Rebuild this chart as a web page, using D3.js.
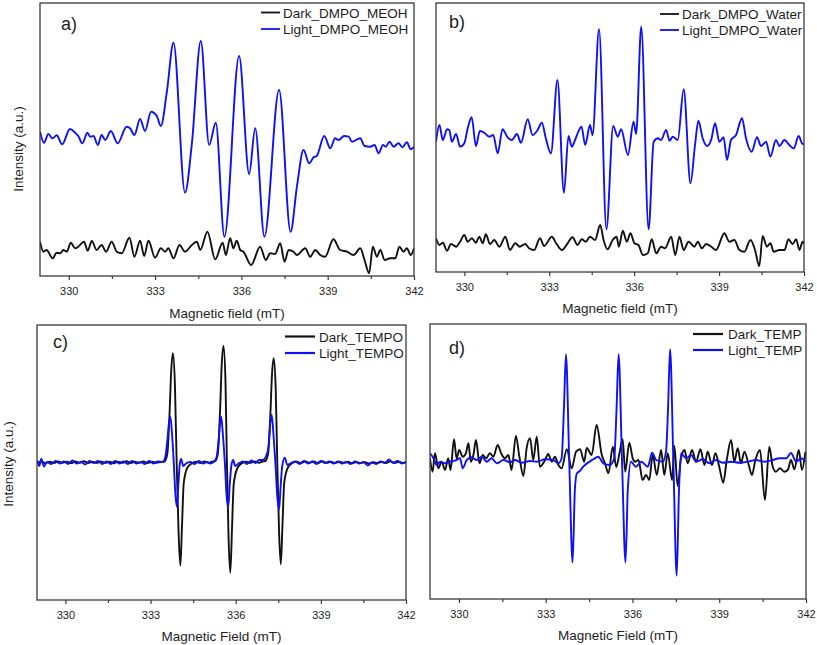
<!DOCTYPE html>
<html><head><meta charset="utf-8">
<script src="https://cdn.jsdelivr.net/npm/d3@7"></script>
<style>
body{margin:0;background:#fff}
svg{display:block}
text{font-family:"Liberation Sans",Arial,sans-serif;fill:#1e1e1e}
</style>
</head><body>
<svg id="chart" width="817" height="645"></svg>
<script>
// ---------- data ----------
const fieldDomain = [329, 342];
const fieldTicks = [330, 333, 336, 339, 342];
const minorTicks = [331.5, 334.5, 337.5, 340.5];
const panelLabels = ["a)", "b)", "c)", "d)"];
const xTitles = ["Magnetic field (mT)", "Magnetic field (mT)", "Magnetic Field (mT)", "Magnetic Field (mT)"];
const yTitle = "Intensity (a.u.)";
const legendMeoh = ["Dark_DMPO_MEOH", "Light_DMPO_MEOH"];
const legendWater = ["Dark_DMPO_Water", "Light_DMPO_Water"];
const legendTempo = ["Dark_TEMPO", "Light_TEMPO"];
const legendTemp = ["Dark_TEMP", "Light_TEMP"];

// [field (mT), intensity (a.u.)]
const darkMeoh = [[329.0,34.3],[329.12,24.3],[329.23,26],[329.44,17.7],[329.58,23.3],[329.70,22.7],[329.81,26],[329.93,24.3],[330.07,33.3],[330.22,27.7],[330.33,29.3],[330.53,34.3],[330.66,25.3],[330.80,35],[330.97,26],[331.14,31],[331.30,24.3],[331.49,34.3],[331.67,24.3],[331.84,22.7],[332.11,38.3],[332.28,19.3],[332.48,35.3],[332.62,20],[332.77,35.3],[333.00,18.3],[333.20,27.7],[333.35,24.3],[333.46,27.7],[333.64,17.7],[333.85,31],[334.04,24.3],[334.28,31],[334.45,34.3],[334.57,26],[334.82,44.3],[335.09,16.7],[335.35,33.3],[335.46,21],[335.61,37.7],[335.72,27.7],[335.84,35.3],[335.96,26],[336.07,24.3],[336.34,11],[336.65,29.3],[336.85,16],[337.0,22.7],[337.17,22],[337.35,32.7],[337.50,14.3],[337.64,26],[337.81,24.3],[337.93,21],[338.22,27.7],[338.39,19.3],[338.57,26],[338.74,21],[338.91,19.3],[339.20,36.7],[339.43,26],[339.67,24.3],[339.90,21],[340.13,27.7],[340.28,16],[340.44,2.7],[340.57,29.3],[340.71,19.3],[340.83,26],[340.98,16],[341.17,17.7],[341.35,17.7],[341.49,29.3],[341.64,24.3],[341.75,27.7],[341.89,21],[342.0,27.7]];
const lightMeoh = [[329.0,144.3],[329.14,133.3],[329.29,142],[329.43,137.7],[329.58,140.7],[329.77,131.7],[330.04,147],[330.22,143.3],[330.33,140],[330.47,132.7],[330.65,143.3],[330.74,139.3],[330.86,140],[331.01,131],[331.14,141],[331.27,136],[331.46,145],[331.70,132.7],[332.01,149.3],[332.13,147.7],[332.28,141],[332.48,157],[332.65,145],[332.86,164.3],[333.06,160],[333.20,150],[333.41,184.3],[333.64,233.3],[334.04,83.3],[334.28,132.7],[334.59,235],[334.88,131],[335.11,153.3],[335.41,39.3],[335.92,220],[336.27,102],[336.48,147.7],[336.80,39.3],[337.31,186],[337.71,44.3],[337.93,89.3],[338.16,126],[338.36,112.7],[338.51,118.7],[338.62,120],[338.88,140],[339.09,127.7],[339.26,137.7],[339.38,136],[339.57,140],[339.73,139.3],[339.84,134.3],[340.13,137.7],[340.28,130],[340.48,129.3],[340.63,131],[340.77,122.7],[340.92,131],[341.02,129.3],[341.15,134.3],[341.29,129.3],[341.46,132.7],[341.60,128.7],[341.75,133.7],[341.89,126.7],[342.0,129.3]];

const darkWater = [[329.0,33.7],[329.12,27],[329.24,29.3],[329.39,21.3],[329.53,28],[329.71,25.3],[329.85,30.3],[330.0,37],[330.12,30.3],[330.27,33.7],[330.41,29.3],[330.53,35.3],[330.65,28.7],[330.76,37.7],[330.91,28],[331.06,32],[331.24,25.3],[331.45,35.3],[331.61,22],[331.80,28.7],[331.96,25.3],[332.15,28],[332.29,23.7],[332.47,22],[332.67,33.7],[332.82,26],[333.09,35.3],[333.26,28],[333.45,22],[333.65,28.7],[333.82,34.7],[334.0,27],[334.15,32.7],[334.29,30.3],[334.44,35.3],[334.62,32],[334.80,47],[334.92,32],[335.06,22.7],[335.24,32],[335.38,35.3],[335.46,25.3],[335.60,41.3],[335.74,30.3],[335.87,38.7],[336.01,28.7],[336.15,27],[336.31,17],[336.48,18.7],[336.62,32.7],[336.78,18.7],[336.95,25.3],[337.09,23.7],[337.31,35.3],[337.45,17],[337.60,35.3],[337.75,22],[337.92,30.3],[338.13,25.3],[338.25,30.3],[338.39,23.7],[338.54,28],[338.69,26],[338.89,22],[339.19,38.7],[339.36,30.3],[339.54,32],[339.72,22],[339.89,20.3],[340.11,32],[340.27,22],[340.42,6],[340.54,36],[340.69,25.3],[340.81,28.7],[340.93,20.3],[341.13,22],[341.31,22],[341.45,32.7],[341.60,28],[341.72,32.7],[341.84,22],[341.95,30.3],[342.0,28]];
const lightWater = [[329.0,130.3],[329.12,147],[329.24,132],[329.39,142.7],[329.47,142],[329.56,130.3],[329.71,138],[329.85,125.3],[330.0,128.7],[330.12,143.7],[330.26,154.7],[330.41,126],[330.55,141],[330.71,139.3],[330.88,135.3],[331.02,137],[331.18,118.7],[331.35,142.7],[331.53,134.7],[331.68,132],[331.86,138],[332.0,129.3],[332.24,152.7],[332.41,137],[332.59,142],[332.74,149.3],[332.88,133.7],[333.06,118.7],[333.29,192],[333.52,79.3],[333.68,136],[333.80,125.3],[333.92,132.7],[334.14,145.3],[334.27,127],[334.44,147],[334.53,137],[334.76,242.7],[335.02,42.7],[335.26,146],[335.42,135.3],[335.54,142.7],[335.78,117],[335.98,150.3],[336.07,138],[336.25,245.3],[336.51,42.7],[336.69,130.3],[336.84,133.7],[336.95,132],[337.13,142],[337.25,131.3],[337.36,135.3],[337.54,132],[337.75,182.7],[337.99,88.7],[338.15,127],[338.27,151.3],[338.42,133.7],[338.58,126],[338.72,132],[338.86,148.7],[339.01,130.3],[339.16,134.7],[339.28,112],[339.42,132],[339.60,137],[339.81,153.7],[339.95,133.7],[340.15,120.3],[340.34,134.7],[340.48,126],[340.66,130.3],[340.81,115.3],[341.01,132],[341.13,126],[341.31,132],[341.48,127],[341.64,123.7],[341.81,136],[341.95,128],[342.0,128.7]];

const darkTempo = [[329.0,136.5],[329.15,138.5],[329.3,136.8],[329.45,138.2],[329.6,137],[329.75,138.6],[329.9,137.2],[330.05,138.4],[330.2,136.9],[330.35,138.5],[330.5,137.3],[330.65,138.8],[330.8,137],[330.95,138.2],[331.1,137.1],[331.25,138.6],[331.4,137.2],[331.55,138.3],[331.7,136.8],[331.85,138.4],[332.0,137.2],[332.15,138.7],[332.3,137],[332.45,138.2],[332.6,137.1],[332.75,138.5],[332.9,137],[333.05,138.3],[333.2,137.2],[333.35,138],[333.49,138.5],[333.59,146],[333.67,186.7],[333.73,230],[333.79,246.7],[333.86,214],[333.92,137.7],[333.99,65.3],[334.05,34.3],[334.11,75.7],[334.17,117],[334.30,132.5],[334.45,136.5],[334.6,138.2],[334.75,137],[334.9,138.5],[335.05,137.2],[335.17,138.4],[335.27,138.8],[335.37,146],[335.45,190],[335.51,236.6],[335.57,254],[335.64,219],[335.69,137.7],[335.75,60.4],[335.81,27.3],[335.87,71.5],[335.93,115.6],[336.06,132],[336.22,136.8],[336.37,138.3],[336.52,137.2],[336.67,138.6],[336.82,137.3],[336.94,138.5],[337.04,139],[337.14,146],[337.22,184.5],[337.28,226],[337.34,241.7],[337.41,210.5],[337.465,137.7],[337.53,66.3],[337.59,35.7],[337.65,76.5],[337.71,117.3],[337.84,132.5],[338.0,137],[338.15,138.4],[338.3,137.1],[338.45,138.6],[338.6,137.3],[338.75,138.5],[338.9,137],[339.05,138.8],[339.2,137.2],[339.35,138.3],[339.5,137],[339.65,138.4],[339.8,137.2],[339.95,138.2],[340.1,136.8],[340.25,138],[340.4,136.9],[340.55,137.8],[340.7,136.6],[340.85,137.7],[341.0,136.9],[341.15,138.1],[341.3,137],[341.45,138.6],[341.6,137.2],[341.75,138.3],[341.9,137],[342.0,137.8]];
const lightTempo = [[329.0,140],[329.08,134],[329.15,141],[329.25,133.5],[329.35,138],[329.5,136],[329.65,139],[329.8,136.5],[329.95,138.5],[330.1,136],[330.25,139.5],[330.4,136.5],[330.55,138],[330.7,135.5],[330.85,139],[331.0,137],[331.15,139],[331.3,136],[331.45,138.5],[331.6,136],[331.75,139],[331.9,136.5],[332.05,138.5],[332.2,136],[332.35,139],[332.5,136.5],[332.65,138],[332.8,136],[332.95,139],[333.1,136.5],[333.25,138.5],[333.42,138],[333.52,143],[333.60,162],[333.65,177],[333.70,183.3],[333.76,165],[333.82,136.5],[333.88,104],[333.93,93.3],[333.98,115],[334.03,136],[334.08,141],[334.15,134],[334.25,136.5],[334.4,138],[334.55,136],[334.7,139],[334.85,136.5],[335.0,138],[335.1,136.5],[335.22,138],[335.32,142],[335.40,160],[335.45,177],[335.49,183.3],[335.55,165],[335.62,136.5],[335.68,104],[335.74,93.3],[335.79,115],[335.85,135],[335.91,140],[335.98,134],[336.1,136.5],[336.25,138.5],[336.4,136],[336.55,139.5],[336.7,137],[336.82,140],[336.95,140],[337.05,142.5],[337.15,152],[337.22,177],[337.27,185],[337.33,166],[337.40,136.5],[337.47,102],[337.53,90.7],[337.58,112],[337.64,134],[337.73,142.3],[337.82,135],[337.95,137],[338.1,138.5],[338.25,136],[338.4,139],[338.55,136.5],[338.7,138.5],[338.85,136],[339.0,139],[339.15,137],[339.3,138.5],[339.45,136.5],[339.6,138.5],[339.75,136.5],[339.9,138],[340.05,136],[340.2,138.5],[340.35,136.5],[340.5,138],[340.65,134.5],[340.8,137.5],[340.95,136],[341.1,138.5],[341.25,137],[341.4,140.5],[341.55,137],[341.7,139],[341.85,136.5],[342.0,138]];

const darkTemp = [[329.0,140.7],[329.09,127.3],[329.17,145.7],[329.29,130.7],[329.40,137.3],[329.52,129],[329.63,140.7],[329.71,129],[329.83,159.7],[329.92,140.7],[330.01,149],[330.13,142.3],[330.24,145.7],[330.33,155.7],[330.41,137.3],[330.50,144],[330.59,159],[330.71,135.7],[330.82,144],[330.94,140.7],[331.07,145.7],[331.19,142.3],[331.34,154],[331.46,145.7],[331.59,140.7],[331.71,144],[331.82,129],[331.97,163],[332.09,142.3],[332.23,123],[332.34,150.7],[332.46,160.7],[332.57,139],[332.69,162.3],[332.80,132.3],[332.98,139],[333.09,145],[333.21,137.3],[333.32,142.3],[333.44,134],[333.55,130.7],[333.73,149.7],[333.90,130.7],[334.05,147.3],[334.19,149.7],[334.33,137.3],[334.42,151],[334.59,144],[334.76,174],[334.94,144],[335.05,135.7],[335.17,125.7],[335.32,152.3],[335.44,132],[335.55,145.7],[335.66,159.7],[335.75,127.3],[335.89,156.3],[336.01,140.7],[336.10,137.3],[336.21,139],[336.35,119],[336.47,124],[336.58,119],[336.70,144],[336.84,124],[336.99,149],[337.10,124],[337.22,145.7],[337.37,119],[337.45,153],[337.56,113],[337.68,140.7],[337.80,149],[337.91,135.7],[338.06,149],[338.20,137.3],[338.35,149.7],[338.49,134],[338.60,147.3],[338.75,134],[338.87,145.7],[339.00,132.3],[339.14,116.3],[339.26,139],[339.41,159],[339.52,137.3],[339.64,150.7],[339.75,135.7],[339.87,147.3],[340.02,134],[340.13,124],[340.25,139],[340.41,149],[340.58,99],[340.73,152.3],[340.85,132.3],[340.96,127.3],[341.10,130.7],[341.25,127.3],[341.37,129],[341.48,139],[341.60,129.7],[341.75,149],[341.86,129],[341.98,147.3]];
const lightTemp = [[329.0,145.7],[329.12,140.7],[329.23,134],[329.35,137.3],[329.52,135.7],[329.69,137.3],[329.86,138.3],[330.04,140.7],[330.13,130.7],[330.27,139],[330.44,141.7],[330.61,139],[330.79,142.3],[330.96,137.3],[331.13,140.7],[331.31,135.7],[331.54,139],[331.77,136.7],[331.94,139],[332.17,136.3],[332.46,138],[332.69,137.3],[332.98,139.7],[333.26,139],[333.44,135.7],[333.55,140.7],[333.63,190],[333.70,244.7],[333.815,137],[333.93,36.7],[334.01,110],[334.08,125.7],[334.18,128],[334.30,132.3],[334.65,139.7],[334.82,142.3],[334.99,135.7],[335.22,134],[335.37,140.7],[335.45,190],[335.52,244.7],[335.64,137],[335.76,36.7],[335.84,110],[335.95,137.3],[336.12,132.3],[336.30,137.3],[336.53,132.3],[336.68,146.3],[336.82,139],[337.05,137.3],[337.16,147.3],[337.23,190],[337.30,249.7],[337.415,137],[337.53,23.3],[337.61,110],[337.68,145.7],[337.85,140.7],[338.03,144],[338.20,137.3],[338.43,139.7],[338.66,135.7],[338.89,139],[339.12,136.3],[339.41,137.3],[339.70,136.3],[339.99,137.3],[340.27,139],[340.56,137.3],[340.85,139],[341.08,140.7],[341.31,140.7],[341.48,146],[341.66,137.3],[341.83,140.7],[341.98,137.3]];

// ---------- layout ----------
const colors = {dark: "#111111", light: "#1010f4", frame: "#3a3a3a"};
const panels = [
  {dark: darkMeoh, light: lightMeoh, legend: legendMeoh, left: 40, right: 414, top: 3, bottom: 276, ymax: 273,
   label: [61, 30], leg: {x1: 261, x2: 280, y: [12.5, 29], tx: 283, w: 1.8}, xtY: 318, yt: [23, 149]},
  {dark: darkWater, light: lightWater, legend: legendWater, left: 436, right: 804, top: 3, bottom: 272, ymax: 269,
   label: [449, 28], leg: {x1: 660, x2: 679, y: [14, 30], tx: 682, w: 1.8}, xtY: 313, yt: null},
  {dark: darkTempo, light: lightTempo, legend: legendTempo, left: 37, right: 406, top: 325, bottom: 600, ymax: 275,
   label: [53, 348], leg: {x1: 285, x2: 315, y: [336.5, 353], tx: 319, w: 2.2}, xtY: 641, yt: [13, 464]},
  {dark: darkTemp, light: lightTemp, legend: legendTemp, left: 430, right: 806, top: 324, bottom: 599, ymax: 275,
   label: [449, 354], leg: {x1: 693, x2: 723, y: [334, 350], tx: 728, w: 2.2}, xtY: 640, yt: null}
];

const svg = d3.select("#chart");
const defs = svg.append("defs");

panels.forEach((p, i) => {
  const x = d3.scaleLinear().domain(fieldDomain).range([p.left, p.right]);
  const y = d3.scaleLinear().domain([0, p.ymax]).range([p.bottom, p.top]);
  const clipId = "clip" + i;
  defs.append("clipPath").attr("id", clipId).append("rect")
    .attr("x", p.left).attr("y", p.top).attr("width", p.right - p.left).attr("height", p.bottom - p.top);

  const g = svg.append("g");
  const plot = g.append("g").attr("clip-path", `url(#${clipId})`);
  const line = d3.line().x(d => x(d[0])).y(d => y(d[1])).curve(d3.curveMonotoneX);

  plot.append("path").datum(p.dark).attr("d", line)
    .attr("fill", "none").attr("stroke", colors.dark).attr("stroke-width", 1.9).attr("stroke-linejoin", "round");
  plot.append("path").datum(p.light).attr("d", line)
    .attr("fill", "none").attr("stroke", colors.light).attr("stroke-width", 1.9).attr("stroke-linejoin", "round");

  // legend
  const lg = plot.append("g");
  [colors.dark, colors.light].forEach((c, k) => {
    lg.append("line").attr("x1", p.leg.x1).attr("x2", p.leg.x2).attr("y1", p.leg.y[k]).attr("y2", p.leg.y[k])
      .attr("stroke", c).attr("stroke-width", p.leg.w);
    lg.append("text").attr("x", p.leg.tx).attr("y", p.leg.y[k] + 5)
      .attr("font-size", "13.5px").text(p.legend[k]);
  });

  // panel label
  g.append("text").attr("x", p.label[0]).attr("y", p.label[1]).attr("font-size", "18px").text(panelLabels[i]);

  // axes
  const ax = g.append("g").attr("transform", `translate(0,${p.bottom})`)
    .call(d3.axisBottom(x).tickValues(fieldTicks).tickSize(4).tickPadding(7).tickSizeOuter(0).tickFormat(d3.format("d")));
  ax.select(".domain").remove();
  ax.selectAll("line").attr("stroke", colors.frame).attr("stroke-width", 1.2);
  ax.selectAll("text").attr("font-size", "11px").attr("font-family", "Liberation Sans, Arial, sans-serif").attr("fill", "#222");
  const mx = g.append("g").attr("transform", `translate(0,${p.bottom})`)
    .call(d3.axisBottom(x).tickValues(minorTicks).tickSize(3).tickFormat(""));
  mx.select(".domain").remove();
  mx.selectAll("line").attr("stroke", colors.frame).attr("stroke-width", 1.2);

  // frame
  g.append("rect").attr("x", p.left).attr("y", p.top).attr("width", p.right - p.left).attr("height", p.bottom - p.top)
    .attr("fill", "none").attr("stroke", colors.frame).attr("stroke-width", 1.3);

  // titles
  g.append("text").attr("x", (p.left + p.right) / 2).attr("y", p.xtY).attr("text-anchor", "middle")
    .attr("font-size", "13.5px").text(xTitles[i]);
  if (p.yt) {
    g.append("text").attr("transform", `translate(${p.yt[0]},${p.yt[1]}) rotate(-90)`).attr("text-anchor", "middle")
      .attr("font-size", "13.5px").text(yTitle);
  }
});
</script>
</body></html>
